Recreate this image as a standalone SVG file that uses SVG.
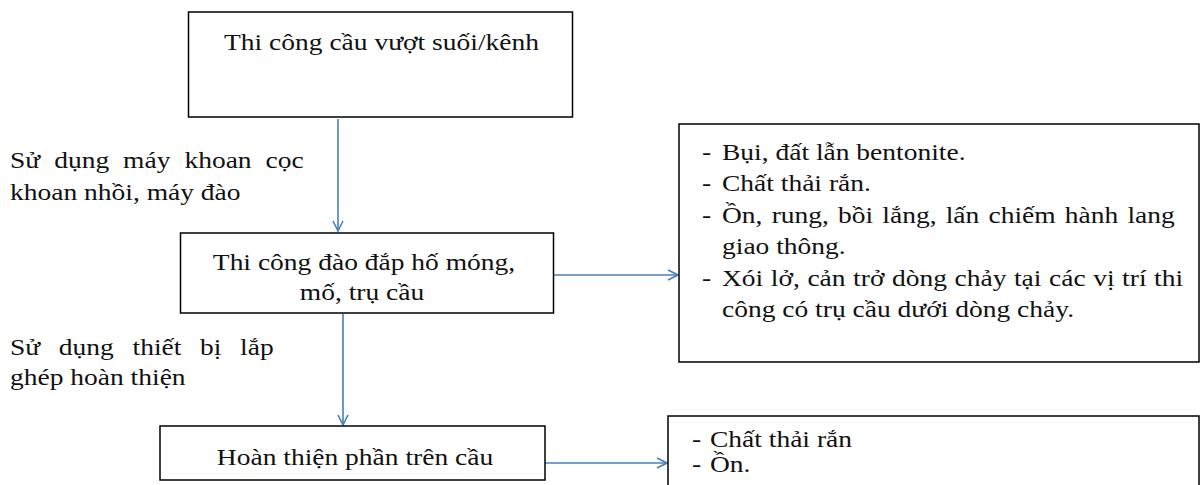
<svg xmlns="http://www.w3.org/2000/svg" width="1201" height="485" viewBox="0 0 1201 485">
<defs>
<style>
.box{fill:#fff;stroke:#000;stroke-width:1.5}
.t{font-family:"Liberation Serif","Times New Roman",serif;font-size:24px;fill:#111}
.c{text-anchor:middle}
.conn{stroke:#4A7EBB;stroke-width:1.6;fill:none}
</style>
<marker id="ah" viewBox="0 0 12 12" refX="11" refY="6" markerWidth="12" markerHeight="12" markerUnits="userSpaceOnUse" orient="auto">
<polyline points="1,1 11,6 1,11" fill="none" stroke="#4A7EBB" stroke-width="1.6"/>
</marker>
</defs>
<rect width="1201" height="485" fill="#fff"/>
<g id="connectors">
<line class="conn" x1="338" y1="119" x2="338" y2="231" marker-end="url(#ah)"/>
<line class="conn" x1="343" y1="314" x2="343" y2="425" marker-end="url(#ah)"/>
<line class="conn" x1="553" y1="275" x2="678" y2="275" marker-end="url(#ah)"/>
<line class="conn" x1="545" y1="463" x2="667" y2="463" marker-end="url(#ah)"/>
</g>
<g id="node-thi-cong-cau">
<rect class="box" x="188.5" y="12" width="384" height="105"/>
<text class="t c" transform="translate(381.5,50) scale(1.146,1)">Thi công cầu vượt suối/kênh</text>
</g>
<g id="label-khoan">
<text class="t" transform="translate(10,168) scale(1.146,1)" style="word-spacing:6.2px">Sử dụng máy khoan cọc</text>
<text class="t" transform="translate(10,200) scale(1.146,1)">khoan nhồi, máy đào</text>
</g>
<g id="node-dao-dap">
<rect class="box" x="180.5" y="233" width="373" height="80"/>
<text class="t c" transform="translate(364,270) scale(1.146,1)">Thi công đào đắp hố móng,</text>
<text class="t c" transform="translate(362,300) scale(1.146,1)">mố, trụ cầu</text>
</g>
<g id="node-tac-dong-1">
<rect class="box" x="679" y="124" width="520" height="238"/>
<text class="t" transform="translate(702,159.5) scale(1.146,1)">-</text>
<text class="t" transform="translate(722,159.5) scale(1.146,1)">Bụi, đất lẫn bentonite.</text>
<text class="t" transform="translate(702,191) scale(1.146,1)">-</text>
<text class="t" transform="translate(722,191) scale(1.146,1)">Chất thải rắn.</text>
<text class="t" transform="translate(702,222.5) scale(1.146,1)">-</text>
<text class="t" transform="translate(722,222.5) scale(1.146,1)" style="word-spacing:2px">Ồn, rung, bồi lắng, lấn chiếm hành lang</text>
<text class="t" transform="translate(722,254) scale(1.146,1)">giao thông.</text>
<text class="t" transform="translate(702,285.5) scale(1.146,1)">-</text>
<text class="t" transform="translate(722,285.5) scale(1.146,1)" style="word-spacing:0.6px">Xói lở, cản trở dòng chảy tại các vị trí thi</text>
<text class="t" transform="translate(722,317) scale(1.146,1)">công có trụ cầu dưới dòng chảy.</text>
</g>
<g id="label-lap-ghep">
<text class="t" transform="translate(10,355) scale(1.146,1)" style="word-spacing:10.3px">Sử dụng thiết bị lắp</text>
<text class="t" transform="translate(10,385) scale(1.146,1)">ghép hoàn thiện</text>
</g>
<g id="node-hoan-thien">
<rect class="box" x="160" y="426" width="385" height="54"/>
<text class="t c" transform="translate(355,465) scale(1.146,1)">Hoàn thiện phần trên cầu</text>
</g>
<g id="node-tac-dong-2">
<rect class="box" x="668" y="416" width="531" height="80"/>
<text class="t" transform="translate(692,447) scale(1.146,1)">-</text>
<text class="t" transform="translate(710,447) scale(1.146,1)">Chất thải rắn</text>
<text class="t" transform="translate(692,472) scale(1.146,1)">-</text>
<text class="t" transform="translate(710,472) scale(1.146,1)">Ồn.</text>
</g>
</svg>
